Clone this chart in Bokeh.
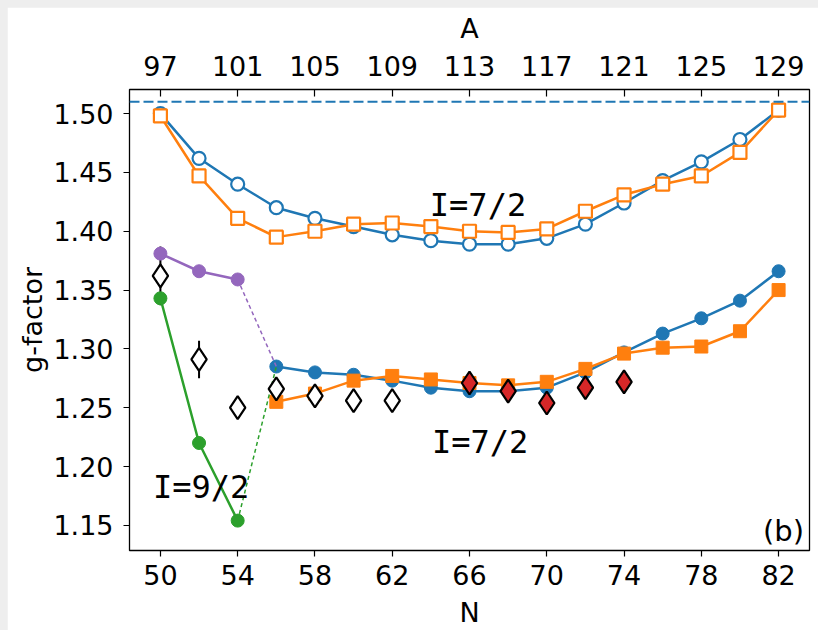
from bokeh.plotting import figure
from bokeh.models import Range1d, LinearAxis, FixedTicker, Span, NumeralTickFormatter
from bokeh.layouts import column
from bokeh.embed import file_html
from bokeh.resources import INLINE
from bokeh.core.properties import value

# Neutron numbers and g-factors
n_all = [50, 52, 54, 56, 58, 60, 62, 64, 66, 68, 70, 72, 74, 76, 78, 80, 82]
g_open_circle = [1.500, 1.462, 1.440, 1.420, 1.411, 1.404, 1.397, 1.392, 1.389,
                 1.389, 1.394, 1.406, 1.424, 1.443, 1.459, 1.478, 1.503]
g_open_square = [1.498, 1.447, 1.411, 1.395, 1.400, 1.406, 1.407, 1.404, 1.400,
                 1.399, 1.402, 1.417, 1.431, 1.440, 1.447, 1.467, 1.503]

n_low = [56, 58, 60, 62, 64, 66, 68, 70, 72, 74, 76, 78, 80, 82]
g_fill_circle = [1.285, 1.280, 1.278, 1.273, 1.267, 1.264, 1.264, 1.267, 1.280,
                 1.297, 1.313, 1.326, 1.341, 1.366]
g_fill_square = [1.255, 1.262, 1.273, 1.277, 1.274, 1.271, 1.269, 1.272, 1.283,
                 1.296, 1.301, 1.302, 1.315, 1.350]

n_nine = [50, 52, 54]
g_purple = [1.381, 1.366, 1.359]
g_green = [1.343, 1.220, 1.154]

# Experimental values
n_exp_open = [50, 52, 54, 56, 58, 60, 62]
g_exp_open = [1.362, 1.291, 1.250, 1.266, 1.260, 1.256, 1.256]
err_exp_open = [0.025, 0.016, 0.005, 0.003, 0.003, 0.003, 0.003]
n_exp_red = [66, 68, 70, 72, 74]
g_exp_red = [1.271, 1.264, 1.254, 1.267, 1.272]
err_exp_red = [0.003, 0.003, 0.003, 0.003, 0.003]

g_limit = 1.51

x_ticks = [50, 54, 58, 62, 66, 70, 74, 78, 82]
a_ticks = [97, 101, 105, 109, 113, 117, 121, 125, 129]
y_ticks = [1.15, 1.20, 1.25, 1.30, 1.35, 1.40, 1.45, 1.50]
z_offset = 47

BLUE = "#1f77b4"
ORANGE = "#ff7f0e"
GREEN = "#2ca02c"
RED = "#d62728"
PURPLE = "#9467bd"
FONT = "DejaVu Sans"
MONO = "DejaVu Sans Mono"

x0, x1 = 48.4, 83.6
p = figure(width=811, height=623, output_backend="svg", toolbar_location=None,
           x_range=Range1d(x0, x1), y_range=Range1d(1.1286, 1.5205),
           min_border_left=122, min_border_right=9, min_border_top=82,
           min_border_bottom=78)
p.extra_x_ranges = {"A": Range1d(x0 + z_offset, x1 + z_offset)}
p.grid.visible = False
p.background_fill_color = "white"
p.border_fill_color = "white"
p.outline_line_color = "black"
p.outline_line_width = 1.3

# Bottom axis: N
xa = p.xaxis[0]
xa.ticker = FixedTicker(ticks=x_ticks)
xa.axis_label = "N"
# Left axis: g-factor
ya = p.yaxis[0]
ya.ticker = FixedTicker(ticks=y_ticks)
ya.formatter = NumeralTickFormatter(format="0.00")
ya.axis_label = "g-factor"

top = LinearAxis(x_range_name="A", ticker=FixedTicker(ticks=a_ticks), axis_label="A")
p.add_layout(top, "above")

for ax in (xa, ya, top):
    ax.axis_line_color = None
    ax.major_tick_line_color = "black"
    ax.major_tick_line_width = 1.2
    ax.minor_tick_line_color = None
    ax.major_label_text_font = FONT
    ax.major_label_text_font_size = "27px"
    ax.major_label_text_color = "black"
    ax.axis_label_text_font = FONT
    ax.axis_label_text_font_size = "27px"
    ax.axis_label_text_font_style = "normal"
    ax.axis_label_text_color = "black"

xa.major_tick_in = 0
xa.major_tick_out = 6
xa.major_label_standoff = 8
xa.axis_label_standoff = 9
ya.major_tick_in = 0
ya.major_tick_out = 6
ya.major_label_standoff = 10
ya.axis_label_standoff = 2
top.major_tick_in = 7
top.major_tick_out = 0
top.major_label_standoff = 14
top.axis_label_standoff = 9

p.add_layout(Span(location=g_limit, dimension="width", line_color=BLUE,
                  line_width=2, line_dash="10 4"))

# Upper I=7/2 band (open markers)
p.line(n_all, g_open_circle, line_color=BLUE, line_width=2.5)
p.scatter(n_all, g_open_circle, marker="circle", size=13, fill_color="white",
          line_color=BLUE, line_width=2.2)
p.line(n_all, g_open_square, line_color=ORANGE, line_width=2.5)
p.scatter(n_all, g_open_square, marker="square", size=13, fill_color="white",
          line_color=ORANGE, line_width=2.2)

# Lower I=7/2 band (filled markers)
p.line(n_low, g_fill_circle, line_color=BLUE, line_width=2.5)
p.scatter(n_low, g_fill_circle, marker="circle", size=13, color=BLUE)
p.line(n_low, g_fill_square, line_color=ORANGE, line_width=2.5)
p.scatter(n_low, g_fill_square, marker="square", size=13, color=ORANGE)

# I=9/2 branches joined to N=56 with dashed lines
p.line([n_nine[-1], n_low[0]], [g_purple[-1], g_fill_circle[0]], line_color=PURPLE,
       line_width=1.5, line_dash="4 3")
p.line([n_nine[-1], n_low[0]], [g_green[-1], g_fill_circle[0]], line_color=GREEN,
       line_width=1.5, line_dash="4 3")

# Error bars of the measurements
p.segment(n_exp_open, [g - e for g, e in zip(g_exp_open, err_exp_open)],
          n_exp_open, [g + e for g, e in zip(g_exp_open, err_exp_open)],
          line_color="black", line_width=2)
p.segment(n_exp_red, [g - e for g, e in zip(g_exp_red, err_exp_red)],
          n_exp_red, [g + e for g, e in zip(g_exp_red, err_exp_red)],
          line_color="black", line_width=2)

p.line(n_nine, g_purple, line_color=PURPLE, line_width=2.5)
p.scatter(n_nine, g_purple, marker="circle", size=13, color=PURPLE)
p.line(n_nine, g_green, line_color=GREEN, line_width=2.5)
p.scatter(n_nine, g_green, marker="circle", size=13, color=GREEN)

p.scatter(n_exp_open, g_exp_open, marker="diamond", size=23, fill_color="white",
          line_color="black", line_width=2.2)
p.scatter(n_exp_red, g_exp_red, marker="diamond", size=23, fill_color=RED,
          line_color="black", line_width=2.2)

# Annotations
p.text(x=[66.44], y=[1.422], text=["I=7/2"], text_font=value(MONO),
       text_font_size="32px", text_align="center", text_baseline="alphabetic",
       text_color="black")
p.text(x=[66.55], y=[1.2208], text=["I=7/2"], text_font=value(MONO),
       text_font_size="32px", text_align="center", text_baseline="alphabetic",
       text_color="black")
p.text(x=[52.11], y=[1.1825], text=["I=9/2"], text_font=value(MONO),
       text_font_size="32px", text_align="center", text_baseline="alphabetic",
       text_color="black")
p.text(x=[83.32], y=[1.1455], text=["(b)"], text_font=value(FONT),
       text_font_size="29px", text_align="right", text_baseline="alphabetic",
       text_color="black")

layout = column(p, styles={"background-color": "#eeeeee",
                           "padding-left": "7px", "padding-top": "7px"})

open("out.html", "w").write(file_html(layout, INLINE))
